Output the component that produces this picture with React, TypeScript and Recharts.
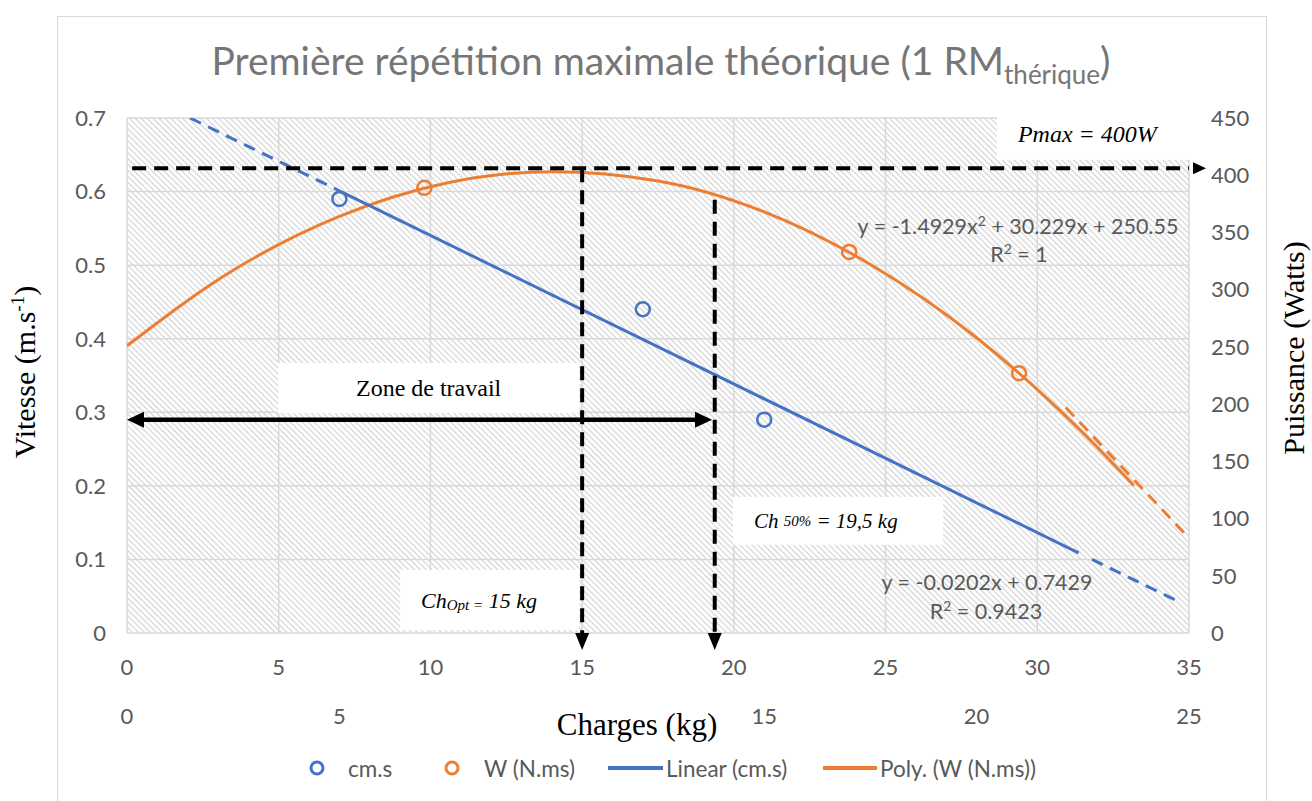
import React from "react";
import {
	CartesianGrid,
	ComposedChart,
	Line,
	ReferenceArea,
	ReferenceLine,
	Scatter,
	XAxis,
	YAxis,
} from "recharts";

// measured loads (kg) with velocity and power
const loads = [7, 17, 21];
const speed = [0.59, 0.44, 0.29];
const power = [389, 333, 227];

// poly trend of power (secondary load axis)
const polyX = [0, 2.5, 5, 7.5, 10, 12.5, 15, 17.5, 20, 22.5, 23.7];
const polyW = [251, 317, 364, 393, 403, 395, 368, 322, 258, 175, 129];
const polyTailX = [22.1, 25];
const polyTailW = [197, 83];

// linear trend of velocity, solid part and dashed extensions
const linX = [7, 31.36];
const linV = [0.601, 0.109];
const linHeadX = [2.08, 7];
const linHeadV = [0.7, 0.601];
const linTailX = [31.8, 34.74];
const linTailV = [0.1, 0.041];

const xTicks = [0, 5, 10, 15, 20, 25, 30, 35];
// the 10 of the lower axis is hidden behind the axis title
const x2Ticks = [0, 5, 15, 20, 25];
const vTicks = [0, 0.1, 0.2, 0.3, 0.4, 0.5, 0.6, 0.7];
const wTicks = [0, 50, 100, 150, 200, 250, 300, 350, 400, 450];

// annotations
const pmaxW = 406;
const chOpt = 15;
const ch50 = 19.37;
const ch50Top = 0.589;
const zoneV = 0.29;
const zoneEnd = 19.28;

const SANS = "Lato, 'Open Sans', sans-serif";
const SERIF = "'Liberation Serif', 'DejaVu Serif', serif";
const BLUE = "#4472C4";
const ORANGE = "#ED7D31";
const GRID = "#d9d9d9";
const TICK = "#595959";

const pts = (xs: number[], ys: number[], key: string) => xs.map((x, i) => ({ x, [key]: ys[i] }));

const cmPts = pts(loads, speed, "v");
const wPts = pts(loads, power, "w");
const polySolid = pts(polyX, polyW, "w");
const polyTail = pts(polyTailX, polyTailW, "w");
const linSolid = pts(linX, linV, "v");
const linHead = pts(linHeadX, linHeadV, "v");
const linTail = pts(linTailX, linTailV, "v");

const tickStyle = { fontSize: 22, fill: TICK, fontFamily: SANS };

const ring = (color: string) => (p: any) => (
	<circle cx={p.cx} cy={p.cy} r={7} fill="none" stroke={color} strokeWidth={2.5} />
);

const dashedArrow = (dir: "right" | "down") => (p: any) => {
	const { x1, y1, x2, y2 } = p;
	const head =
		dir === "right"
			? `${x2 + 4},${y2 - 6} ${x2 + 17},${y2} ${x2 + 4},${y2 + 6}`
			: `${x2 - 7},${y2} ${x2 + 7},${y2} ${x2},${y2 + 17}`;
	return (
		<g>
			<line x1={x1} y1={y1} x2={x2} y2={y2} stroke="#000" strokeWidth={4} strokeDasharray="14 8" />
			<polygon points={head} fill="#000" />
		</g>
	);
};

const doubleArrow = (p: any) => {
	const { x1, y1, x2 } = p;
	return (
		<g>
			<line x1={x1 + 12} y1={y1} x2={x2 - 12} y2={y1} stroke="#000" strokeWidth={4.5} />
			<polygon points={`${x1},${y1} ${x1 + 17},${y1 - 8} ${x1 + 17},${y1 + 8}`} fill="#000" />
			<polygon points={`${x2},${y1} ${x2 - 17},${y1 - 8} ${x2 - 17},${y1 + 8}`} fill="#000" />
		</g>
	);
};

const box = (content: React.ReactNode, size: number, italic: boolean, centered = false) => (p: any) => (
	<g>
		<rect x={p.x} y={p.y} width={p.width} height={p.height} fill="#fff" />
		<text
			x={centered ? p.x + p.width / 2 : p.x + 21}
			y={p.y + p.height / 2}
			dominantBaseline="central"
			textAnchor={centered ? "middle" : "start"}
			fontFamily={SERIF}
			fontSize={size}
			fontStyle={italic ? "italic" : "normal"}
			fill="#000"
		>
			{content}
		</text>
	</g>
);

function Overlay() {
	return (
		<svg width={1312} height={801} style={{ position: "absolute", left: 0, top: 0, pointerEvents: "none" }}>
			<text x={661} y={75} textAnchor="middle" fontFamily={SANS} fontSize={39} fill="#767676">
				Première répétition maximale théorique (1 RM
				<tspan fontSize={26} dy={9}>
					thérique
				</tspan>
				<tspan dy={-9}>)</tspan>
			</text>

			<text transform="rotate(-90 35 372)" x={35} y={372} textAnchor="middle" fontFamily={SERIF} fontSize={30}>
				Vitesse (m.s
				<tspan fontSize={19} dy={-11}>
					-1
				</tspan>
				<tspan dy={11}>)</tspan>
			</text>
			<text transform="rotate(-90 1304 348)" x={1304} y={348} textAnchor="middle" fontFamily={SERIF} fontSize={30}>
				Puissance (Watts)
			</text>

			<text x={637} y={735} textAnchor="middle" fontFamily={SERIF} fontSize={31}>
				Charges (kg)
			</text>

			<g fontFamily={SANS} fontSize={21.5} fill={TICK} textAnchor="middle">
				<text x={1018} y={234}>
					y = -1.4929x<tspan fontSize={14} dy={-8}>2</tspan>
					<tspan dy={8}> + 30.229x + 250.55</tspan>
				</text>
				<text x={1019} y={262}>
					R<tspan fontSize={14} dy={-8}>2</tspan>
					<tspan dy={8}> = 1</tspan>
				</text>
				<text x={987} y={590}>
					y = -0.0202x + 0.7429
				</text>
				<text x={986} y={619}>
					R<tspan fontSize={14} dy={-8}>2</tspan>
					<tspan dy={8}> = 0.9423</tspan>
				</text>
			</g>

			<g fontFamily={SANS} fontSize={22.5} fill={TICK} dominantBaseline="central">
				<circle cx={317} cy={768} r={6} fill="none" stroke={BLUE} strokeWidth={3} />
				<text x={348} y={768}>cm.s</text>
				<circle cx={452} cy={768} r={6} fill="none" stroke={ORANGE} strokeWidth={3} />
				<text x={484} y={768}>W (N.ms)</text>
				<line x1={608} y1={768} x2={663} y2={768} stroke={BLUE} strokeWidth={4} />
				<text x={666} y={768}>Linear (cm.s)</text>
				<line x1={823} y1={768} x2={877} y2={768} stroke={ORANGE} strokeWidth={4} />
				<text x={880} y={768}>Poly. (W (N.ms))</text>
			</g>
		</svg>
	);
}

export default function App() {
	return (
		<div style={{ position: "absolute", left: 0, top: 0, width: 1312, height: 801, overflow: "hidden", background: "#fff" }}>
			<svg width={0} height={0} style={{ position: "absolute" }}>
				<defs>
					<pattern id="hatch" width={6} height={4.2} patternUnits="userSpaceOnUse" patternTransform="rotate(45)">
						<rect x={0} y={0} width={6} height={1.3} fill="#d6d6d6" />
					</pattern>
				</defs>
			</svg>
			<div style={{ position: "absolute", left: 57, top: 16, width: 1208, height: 820, border: `1px solid ${GRID}` }} />
			<div style={{ position: "absolute", left: 0, top: 0 }}>
				<ComposedChart width={1312} height={801} margin={{ top: 118, right: 43, left: 57, bottom: 68 }}>
					<CartesianGrid xAxisId="p" yAxisId="v" stroke={GRID} strokeWidth={1.5} fill="url(#hatch)" fillOpacity={1} />
					<XAxis xAxisId="p" type="number" dataKey="x" domain={[0, 35]} ticks={xTicks} interval={0} allowDataOverflow axisLine={false} tickLine={false} tickSize={0} tickMargin={26} height={50} tick={tickStyle} />
					<XAxis xAxisId="s" type="number" dataKey="x" domain={[0, 25]} ticks={x2Ticks} interval={0} allowDataOverflow axisLine={false} tickLine={false} tickSize={0} tickMargin={25} height={50} tick={tickStyle} />
					<YAxis yAxisId="v" type="number" domain={[0, 0.7]} ticks={vTicks} interval={0} allowDataOverflow axisLine={false} tickLine={false} tickSize={0} tickMargin={21} width={70} tick={tickStyle} />
					<YAxis yAxisId="w" orientation="right" type="number" domain={[0, 450]} ticks={wTicks} interval={0} allowDataOverflow axisLine={false} tickLine={false} tickSize={0} tickMargin={22} width={80} tick={tickStyle} />

					<ReferenceArea xAxisId="p" yAxisId="v" x1={4.98} x2={14.9} y1={0.299} y2={0.367} ifOverflow="visible" shape={box("Zone de travail", 24, false, true)} />
					<ReferenceArea
						xAxisId="p"
						yAxisId="v"
						x1={9.0}
						x2={14.9}
						y1={0.004}
						y2={0.0856}
						ifOverflow="visible"
						shape={box(
							<>
								Ch<tspan fontSize={15} dy={5}>Opt =</tspan>
								<tspan dy={-5}> 15 kg</tspan>
							</>,
							22,
							true,
						)}
					/>
					<ReferenceArea
						xAxisId="p"
						yAxisId="v"
						x1={19.97}
						x2={26.9}
						y1={0.12}
						y2={0.185}
						ifOverflow="visible"
						shape={box(
							<>
								Ch <tspan fontSize={15}>50%</tspan> = 19,5 kg
							</>,
							21,
							true,
						)}
					/>
					<ReferenceArea xAxisId="p" yAxisId="v" x1={28.67} x2={35.1} y1={0.643} y2={0.713} ifOverflow="visible" shape={box("Pmax = 400W", 24, true)} />

					<Line data={polySolid} dataKey="w" xAxisId="s" yAxisId="w" type="monotone" stroke={ORANGE} strokeWidth={3} dot={false} isAnimationActive={false} />
					<Line data={polyTail} dataKey="w" xAxisId="s" yAxisId="w" type="linear" stroke={ORANGE} strokeWidth={3} strokeDasharray="12 8" dot={false} isAnimationActive={false} />
					<Line data={linHead} dataKey="v" xAxisId="p" yAxisId="v" type="linear" stroke={BLUE} strokeWidth={3} strokeDasharray="12 8" dot={false} isAnimationActive={false} />
					<Line data={linSolid} dataKey="v" xAxisId="p" yAxisId="v" type="linear" stroke={BLUE} strokeWidth={3} dot={false} isAnimationActive={false} />
					<Line data={linTail} dataKey="v" xAxisId="p" yAxisId="v" type="linear" stroke={BLUE} strokeWidth={3} strokeDasharray="12 8" dot={false} isAnimationActive={false} />

					<Scatter data={cmPts} dataKey="v" xAxisId="p" yAxisId="v" shape={ring(BLUE)} isAnimationActive={false} />
					<Scatter data={wPts} dataKey="w" xAxisId="s" yAxisId="w" shape={ring(ORANGE)} isAnimationActive={false} />

					<ReferenceLine xAxisId="p" yAxisId="w" segment={[{ x: 0.17, y: pmaxW }, { x: 35, y: pmaxW }]} ifOverflow="visible" shape={dashedArrow("right")} />
					<ReferenceLine xAxisId="p" yAxisId="w" segment={[{ x: chOpt, y: pmaxW }, { x: chOpt, y: 0 }]} ifOverflow="visible" shape={dashedArrow("down")} />
					<ReferenceLine xAxisId="p" yAxisId="v" segment={[{ x: ch50, y: ch50Top }, { x: ch50, y: 0 }]} ifOverflow="visible" shape={dashedArrow("down")} />
					<ReferenceLine xAxisId="p" yAxisId="v" segment={[{ x: 0, y: zoneV }, { x: zoneEnd, y: zoneV }]} ifOverflow="visible" shape={doubleArrow} />
				</ComposedChart>
			</div>
			<Overlay />
		</div>
	);
}
